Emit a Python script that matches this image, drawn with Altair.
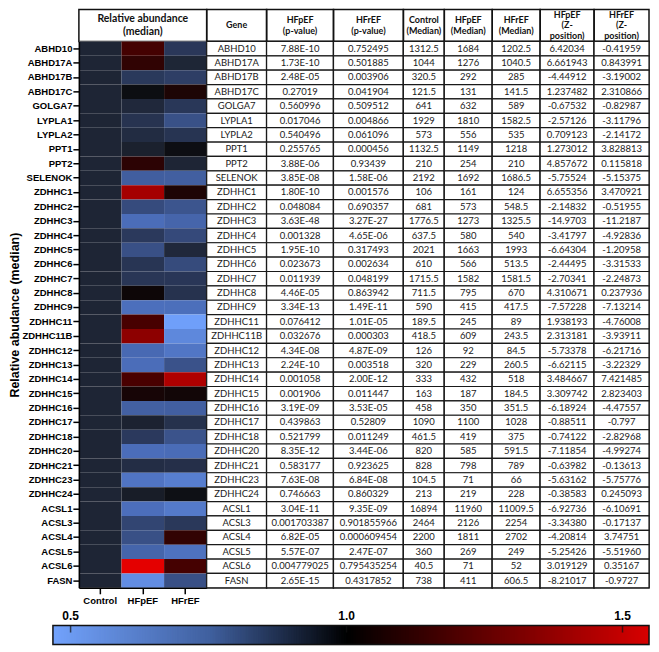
import altair as alt
import numpy as np
import pandas as pd

# ---------------- data ----------------
genes = ["ABHD10", "ABHD17A", "ABHD17B", "ABHD17C", "GOLGA7", "LYPLA1", "LYPLA2", "PPT1", "PPT2",
         "SELENOK", "ZDHHC1", "ZDHHC2", "ZDHHC3", "ZDHHC4", "ZDHHC5", "ZDHHC6", "ZDHHC7", "ZDHHC8",
         "ZDHHC9", "ZDHHC11", "ZDHHC11B", "ZDHHC12", "ZDHHC13", "ZDHHC14", "ZDHHC15", "ZDHHC16",
         "ZDHHC17", "ZDHHC18", "ZDHHC20", "ZDHHC21", "ZDHHC23", "ZDHHC24", "ACSL1", "ACSL3", "ACSL4",
         "ACSL5", "ACSL6", "FASN"]

hfpef_p = ["7.88E-10", "1.73E-10", "2.48E-05", "0.27019", "0.560996", "0.017046", "0.540496", "0.255765",
           "3.88E-06", "3.85E-08", "1.80E-10", "0.048084", "3.63E-48", "0.001328", "1.95E-10", "0.023673",
           "0.011939", "4.46E-05", "3.34E-13", "0.076412", "0.032676", "4.34E-08", "2.24E-10", "0.001058",
           "0.001906", "3.19E-09", "0.439863", "0.521799", "8.35E-12", "0.583177", "7.63E-08", "0.746663",
           "3.04E-11", "0.001703387", "6.82E-05", "5.57E-07", "0.004779025", "2.65E-15"]

hfref_p = ["0.752495", "0.501885", "0.003906", "0.041904", "0.509512", "0.004866", "0.061096", "0.000456",
           "0.93439", "1.58E-06", "0.001576", "0.690357", "3.27E-27", "4.65E-06", "0.317493", "0.002634",
           "0.048199", "0.863942", "1.49E-11", "1.01E-05", "0.000303", "4.87E-09", "0.003518", "2.00E-12",
           "0.011447", "3.53E-05", "0.52809", "0.011249", "3.44E-06", "0.923625", "6.84E-08", "0.860329",
           "9.35E-09", "0.901855966", "0.000609454", "2.47E-07", "0.795435254", "0.4317852"]

control_median = [1312.5, 1044, 320.5, 121.5, 641, 1929, 573, 1132.5, 210, 2192, 106, 681, 1776.5, 637.5,
                  2021, 610, 1715.5, 711.5, 590, 189.5, 418.5, 126, 320, 333, 163, 458, 1090, 461.5, 820,
                  828, 104.5, 213, 16894, 2464, 2200, 360, 40.5, 738]

hfpef_median = [1684, 1276, 292, 131, 632, 1810, 556, 1149, 254, 1692, 161, 573, 1273, 580, 1663, 566,
                1582, 795, 415, 245, 609, 92, 229, 432, 187, 350, 1100, 419, 585, 798, 71, 219, 11960,
                2126, 1811, 269, 71, 411]

hfref_median = [1202.5, 1040.5, 285, 141.5, 589, 1582.5, 535, 1218, 210, 1686.5, 124, 548.5, 1325.5, 540,
                1993, 513.5, 1581.5, 670, 417.5, 89, 243.5, 84.5, 260.5, 518, 184.5, 351.5, 1028, 375,
                591.5, 789, 66, 228, 11009.5, 2254, 2702, 249, 52, 606.5]

hfpef_z = ["6.42034", "6.661943", "-4.44912", "1.237482", "-0.67532", "-2.57126", "0.709123", "1.273012",
           "4.857672", "-5.75524", "6.655356", "-2.14832", "-14.9703", "-3.41797", "-6.64304", "-2.44495",
           "-2.70341", "4.310671", "-7.57228", "1.938193", "2.313181", "-5.73378", "-6.62115", "3.484667",
           "3.309742", "-6.18924", "-0.88511", "-0.74122", "-7.11854", "-0.63982", "-5.63162", "-0.38583",
           "-6.92736", "-3.34380", "-4.20814", "-5.25426", "3.019129", "-8.21017"]

hfref_z = ["-0.41959", "0.843991", "-3.19002", "2.310866", "-0.82987", "-3.11796", "-2.14172", "3.828813",
           "0.115818", "-5.15375", "3.470921", "-0.51955", "-11.2187", "-4.92836", "-1.20958", "-3.31533",
           "-2.24873", "0.237936", "-7.13214", "-4.76008", "-3.93911", "-6.21716", "-3.22329", "7.421485",
           "2.823403", "-4.47557", "-0.797", "-2.82968", "-4.99274", "-0.13613", "-5.75776", "0.245093",
           "-6.10691", "-0.17137", "3.74751", "-5.51960", "0.35167", "-0.9727"]

groups = ["Control", "HFpEF", "HFrEF"]
colorbar_ticks = [0.5, 1.0, 1.5]

# ---------------- styling / layout ----------------
AXIS_FONT = "Liberation Sans"
TABLE_FONT = "Lato"
ROW_H = 14.4
HEAD_H = 32
HEAT_W = 128
BODY_H = ROW_H * len(genes)
CB_H = 19

heat_domain = [0.47, 0.72, 0.9, 1.0, 1.1, 1.3, 1.5, 1.75]
heat_colors = ["#6f9ffa", "#4a6cb8", "#2c3b60", "#1e2535", "#070708", "#4a0000", "#a00000", "#e40000"]
cb_domain = [0.468, 0.75, 1.0, 1.548]
cb_colors = ["#72a2fc", "#40609f", "#000000", "#d80000"]

# relative abundance (median / control median)
heat_rows = []
for g, c, p, r in zip(genes, control_median, hfpef_median, hfref_median):
    heat_rows.append({"gene": g, "group": "Control", "ratio": c / c})
    heat_rows.append({"gene": g, "group": "HFpEF", "ratio": p / c})
    heat_rows.append({"gene": g, "group": "HFrEF", "ratio": r / c})
heat_df = pd.DataFrame(heat_rows)


def fmt(v):
    return f"{v:g}"


table_columns = [
    (["Gene"], genes, 60),
    (["HFpEF", "(p-value)"], hfpef_p, 67),
    (["HFrEF", "(p-value)"], hfref_p, 70),
    (["Control", "(Median)"], [fmt(v) for v in control_median], 41),
    (["HFpEF", "(Median)"], [fmt(v) for v in hfpef_median], 48),
    (["HFrEF", "(Median)"], [fmt(v) for v in hfref_median], 48),
    (["HFpEF", "(Z-", "position)"], hfpef_z, 54),
    (["HFrEF", "(Z-", "position)"], hfref_z, 55),
]

border = alt.ViewBackground(stroke="#111111", strokeWidth=1.5)


def header_cell(lines, w, size=9, lh=10.5):
    n = len(lines)
    layers = []
    for k, line in enumerate(lines):
        layers.append(
            alt.Chart(pd.DataFrame({"t": [line]})).mark_text(
                font=TABLE_FONT, fontSize=size, fontWeight="bold", color="#111111",
                dy=(k - (n - 1) / 2) * lh
            ).encode(text="t:N")
        )
    return alt.layer(*layers).properties(width=w, height=HEAD_H, view=border)


heat_header = header_cell(["Relative abundance", "(median)"], HEAT_W, size=10.5, lh=13)

heat_body = alt.Chart(heat_df).mark_rect().encode(
    x=alt.X("group:N", sort=groups, title=None,
            scale=alt.Scale(paddingInner=0, paddingOuter=0),
            axis=alt.Axis(labelAngle=0, labelFont=AXIS_FONT, labelFontSize=9.5, labelFontWeight="bold",
                          labelColor="black", domainColor="black", domainWidth=1.5, tickColor="black",
                          tickWidth=1.5, tickSize=6, labelPadding=2)),
    y=alt.Y("gene:N", sort=genes,
            scale=alt.Scale(paddingInner=0, paddingOuter=0),
            axis=alt.Axis(title="Relative abudance (median)", titleFont=AXIS_FONT, titleFontSize=12.5,
                          titleFontWeight="bold", titleColor="black", titlePadding=1,
                          labelFont=AXIS_FONT, labelFontSize=9.5, labelFontWeight="bold", labelColor="black",
                          domainColor="black", domainWidth=1.5, tickColor="black", tickWidth=1.5,
                          tickSize=6, labelPadding=1, minExtent=56, maxExtent=56)),
    color=alt.Color("ratio:Q", scale=alt.Scale(domain=heat_domain, range=heat_colors,
                                               interpolate="rgb", clamp=True), legend=None),
).properties(width=HEAT_W, height=BODY_H)


def body_column(vals, w):
    df = pd.DataFrame({"gene": genes, "txt": vals, "col": "c"})
    base = alt.Chart(df).encode(
        x=alt.X("col:N", axis=None, scale=alt.Scale(paddingInner=0, paddingOuter=0)),
        y=alt.Y("gene:N", sort=genes, axis=None, scale=alt.Scale(paddingInner=0, paddingOuter=0)),
    )
    cells = base.mark_rect(fill="white", stroke="#1a1a1a", strokeWidth=1.2)
    txt = base.mark_text(font=TABLE_FONT, fontSize=9.5, color="#1a1a1a").encode(text="txt:N")
    return alt.layer(cells, txt).properties(width=w, height=BODY_H, view=border)


headers = [header_cell(lines, w) for lines, _, w in table_columns]
bodies = [body_column(vals, w) for _, vals, w in table_columns]
table_w = sum(w for _, _, w in table_columns)

grid = alt.concat(heat_header, *headers, heat_body, *bodies,
                  columns=len(table_columns) + 1, spacing=0, align="each", bounds="flush"
                  ).resolve_scale(color="independent")

# ---------------- colour bar ----------------
# the bar starts CB_LEFT px left of the heat-map edge and ends at the table's right edge
CB_LEFT = 26
cb_w = HEAT_W + table_w
px_per_unit = (cb_w + CB_LEFT) / (cb_domain[-1] - cb_domain[0])
cb_x = alt.Scale(domain=[cb_domain[0] + CB_LEFT / px_per_unit, cb_domain[-1]], nice=False, zero=False)
cb_y = alt.Scale(paddingInner=0, paddingOuter=0)

ramp = np.round(np.arange(cb_domain[0], cb_domain[-1], 0.003), 4)
cb_df = pd.DataFrame({"v": ramp, "v2": np.minimum(ramp + 0.006, cb_domain[-1]), "c": "bar"})
tick_df = pd.DataFrame({"t": colorbar_ticks, "c": "bar"})

cb_bar = alt.Chart(cb_df).mark_rect().encode(
    x=alt.X("v:Q", scale=cb_x, axis=None),
    x2="v2:Q",
    y=alt.Y("c:N", axis=None, scale=cb_y),
    color=alt.Color("v:Q", scale=alt.Scale(domain=cb_domain, range=cb_colors, interpolate="rgb",
                                           clamp=True), legend=None),
)
cb_frame = alt.Chart(pd.DataFrame({"lo": [cb_domain[0]], "hi": [cb_domain[-1]], "c": ["bar"]})).mark_rect(
    filled=False, color="#111111", strokeWidth=1.5
).encode(x=alt.X("lo:Q", scale=cb_x, axis=None), x2="hi:Q", y=alt.Y("c:N", axis=None, scale=cb_y))

# short ticks hanging from the top edge of the bar
cb_ticks = alt.Chart(tick_df).mark_tick(
    orient="vertical", size=7, thickness=1.5, color="#111111", yOffset=-(CB_H / 2 - 3.5)
).encode(x=alt.X("t:Q", scale=cb_x, axis=None),
         y=alt.Y("c:N", axis=None, scale=cb_y))

cb_labels = alt.Chart(tick_df).mark_text(
    font=AXIS_FONT, fontSize=12, fontWeight="bold", color="black", baseline="bottom", dy=-3
).encode(x=alt.X("t:Q", scale=cb_x, axis=None),
         y=alt.Y("c:N", axis=None, scale=cb_y, bandPosition=0),
         text=alt.Text("t:Q", format=".1f"))

colorbar = alt.layer(cb_bar, cb_frame, cb_ticks, cb_labels).properties(width=cb_w, height=CB_H)

chart = alt.vconcat(grid, colorbar, spacing=2).resolve_scale(color="independent").properties(
    padding={"left": 0, "top": 0, "right": 0, "bottom": 0}
).configure_view(stroke=None).configure(background="white")

chart.save("out.html", embed_options={"renderer": "svg", "actions": False})
